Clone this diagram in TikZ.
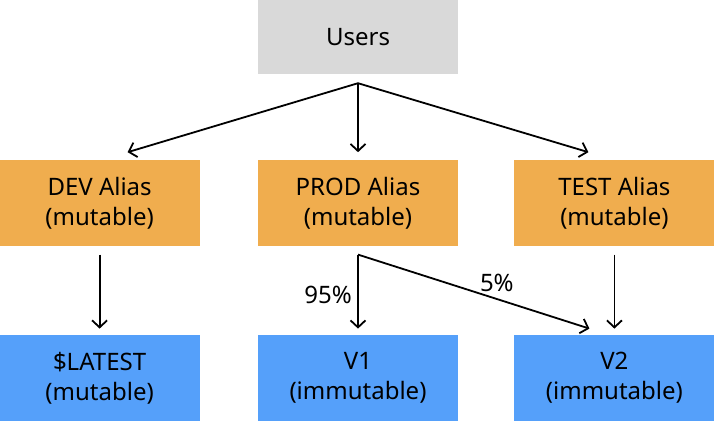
\documentclass[tikz,border=0pt]{standalone}
\usepackage{fontspec}
\setmainfont{Noto Sans}
\usetikzlibrary{positioning, arrows.meta}
\usepackage{xcolor}

\definecolor{usergray}{HTML}{D9D9D9}
\definecolor{aliasorange}{HTML}{F0AD4E}
\definecolor{versionblue}{HTML}{55A0FA}

\tikzset{
    box/.style={minimum width=200pt, minimum height=86pt, inner sep=0pt, align=center,
        font=\fontsize{24}{30}\selectfont},
    userbox/.style={box, fill=usergray, minimum height=74pt},
    aliasbox/.style={box, fill=aliasorange},
    versionbox/.style={box, fill=versionblue},
    flow/.style={-{Straight Barb[length=7pt, width=15pt]}, line width=1.8pt},
    pct/.style={font=\fontsize{24}{28}\selectfont}
}

\begin{document}
\begin{tikzpicture}
    \useasboundingbox (0,0) rectangle (714pt,-420pt);
    \node[userbox] (users) at (358pt,-37pt) {Users};
    \node[aliasbox] (prod) [below=86pt of users] {PROD Alias\\(mutable)};
    \node[aliasbox] (dev) [left=58pt of prod] {DEV Alias\\(mutable)};
    \node[aliasbox] (test) [right=56pt of prod] {TEST Alias\\(mutable)};
    \node[versionbox] (v1) [below=88pt of prod] {V1\\(immutable)};
    \node[versionbox] (latest) [below=88pt of dev] {\$LATEST\\(mutable)};
    \node[versionbox] (v2) [below=88pt of test] {V2\\(immutable)};

    % users to aliases
    \draw[flow] ([yshift=-9pt]users.south) -- ([xshift=28pt, yshift=8pt]dev.north);
    \draw[flow] ([yshift=-9pt]users.south) -- ([yshift=8pt]prod.north);
    \draw[flow] ([yshift=-9pt]users.south) -- ([xshift=-26pt, yshift=8pt]test.north);

    % aliases to versions
    \draw[flow] ([yshift=-8pt]dev.south) -- ([yshift=6pt]latest.north);
    \draw[flow] ([yshift=-8pt]prod.south) -- node[pct, left, pos=0.55, xshift=-2pt] {95\%} ([yshift=6pt]v1.north);
    \draw[flow] ([yshift=-8pt]prod.south) -- node[pct, above, pos=0.6, yshift=3pt] {5\%} ([xshift=-25pt, yshift=6pt]v2.north);
    \draw[flow] ([yshift=-8pt]test.south) -- ([yshift=6pt]v2.north);
\end{tikzpicture}
\end{document}
